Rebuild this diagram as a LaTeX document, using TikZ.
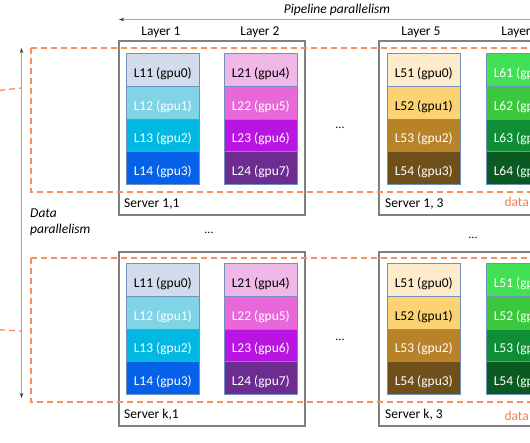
\documentclass[tikz,border=0pt]{standalone}
\usepackage{fontspec}
\setmainfont{Carlito}
\usetikzlibrary{arrows.meta}
\definecolor{c11}{HTML}{D2DCEC}
\definecolor{c12}{HTML}{80D4E6}
\definecolor{c13}{HTML}{00B8E2}
\definecolor{c14}{HTML}{0562E8}
\definecolor{c21}{HTML}{F0B8E6}
\definecolor{c22}{HTML}{E868DA}
\definecolor{c23}{HTML}{B814E2}
\definecolor{c24}{HTML}{6C2C90}
\definecolor{c51}{HTML}{FDEBCB}
\definecolor{c52}{HTML}{FDD272}
\definecolor{c53}{HTML}{B88228}
\definecolor{c54}{HTML}{6F501A}
\definecolor{c61}{HTML}{42E055}
\definecolor{c62}{HTML}{3CC83C}
\definecolor{c63}{HTML}{0F8E36}
\definecolor{c64}{HTML}{0B5A22}
\definecolor{blockedge}{HTML}{7090C0}
\definecolor{servergray}{HTML}{808080}
\definecolor{arrowgray}{HTML}{A6A6A6}
\definecolor{dashorange}{HTML}{F4905E}
\definecolor{dataorange}{HTML}{F07F50}
\definecolor{tipcol}{HTML}{333333}
\newcommand\gpucol[4]{%
  \foreach \r/\lab/\fc/\tc in {#4}{%
    \node[gpu, fill=\fc] (#1\r) at (#2, #3+\r*32.75) {};
    \node[gputxt, text=\tc] (#1t\r) at ([yshift=-4pt]#1\r.center) {\lab};
  }}
\begin{document}
\begin{tikzpicture}[x=1pt,y=-1pt,
  gpu/.style={draw=blockedge, line width=0.6pt, minimum width=73pt, minimum height=32.75pt, anchor=north west, inner sep=0pt},
  gputxt/.style={font=\fontsize{13.5}{15}\selectfont, inner sep=0pt},
  lbl/.style={font=\fontsize{13.5}{15}\selectfont, inner sep=0pt},
  server/.style={draw=servergray, line width=1.2pt},
  dgroup/.style={draw=dashorange, line width=1.3pt, dash pattern=on 6pt off 4pt},
  garrow/.style={draw=arrowgray, line width=1pt},
  dots/.style={font=\fontsize{12}{13}\selectfont, inner sep=0pt}]
\useasboundingbox (0,0) rectangle (530,442);
\clip (0,0) rectangle (530,442);

% server boxes
\draw[server] (119,41) rectangle (305,215);
\draw[server] (379,41) rectangle (620,215);
\draw[server] (119,252) rectangle (305,426);
\draw[server] (379,252) rectangle (620,426);

% gpu columns, top row
\gpucol{a}{126}{53}{0/L11 (gpu0)/c11/black, 1/L12 (gpu1)/c12/white, 2/L13 (gpu2)/c13/white, 3/L14 (gpu3)/c14/white}
\gpucol{b}{224}{53}{0/L21 (gpu4)/c21/black, 1/L22 (gpu5)/c22/white, 2/L23 (gpu6)/c23/white, 3/L24 (gpu7)/c24/white}
\gpucol{c}{387}{53}{0/L51 (gpu0)/c51/black, 1/L52 (gpu1)/c52/black, 2/L53 (gpu2)/c53/white, 3/L54 (gpu3)/c54/white}
\gpucol{d}{486}{53}{0/L61 (gpu4)/c61/white, 1/L62 (gpu5)/c62/white, 2/L63 (gpu6)/c63/white, 3/L64 (gpu7)/c64/white}
% gpu columns, bottom row
\gpucol{e}{126}{263}{0/L11 (gpu0)/c11/black, 1/L12 (gpu1)/c12/white, 2/L13 (gpu2)/c13/white, 3/L14 (gpu3)/c14/white}
\gpucol{f}{224}{263}{0/L21 (gpu4)/c21/black, 1/L22 (gpu5)/c22/white, 2/L23 (gpu6)/c23/white, 3/L24 (gpu7)/c24/white}
\gpucol{g}{387}{263}{0/L51 (gpu0)/c51/black, 1/L52 (gpu1)/c52/black, 2/L53 (gpu2)/c53/white, 3/L54 (gpu3)/c54/white}
\gpucol{h}{486}{263}{0/L51 (gpu4)/c61/white, 1/L52 (gpu5)/c62/white, 2/L53 (gpu6)/c63/white, 3/L54 (gpu7)/c64/white}

% data-parallel groups (dashed)
\draw[dgroup] (31,48) rectangle (640,192);
\draw[dgroup] (31,258) rectangle (640,402);
\coordinate (lt0) at (-40,98);
\coordinate (lt1) at (21,88);
\coordinate (lb0) at (-40,322);
\coordinate (lb1) at (21,331);
\draw[dgroup] (lt0) .. controls (-15,92) .. (lt1);
\draw[dgroup] (lb0) .. controls (-15,329) .. (lb1);

% arrows
\coordinate (pR) at (540,19.5);
\coordinate (pL) at (119,19.5);
\draw[garrow, -{Stealth[length=5pt,width=3.5pt,color=tipcol]}] (pR) -- (pL);
\coordinate (dT) at (21.5,48);
\coordinate (dB) at (21.5,398);
\draw[garrow, {Stealth[length=5pt,width=3.5pt,color=tipcol]}-{Stealth[length=5pt,width=3.5pt,color=tipcol]}] (dB) -- (dT);

% labels
\node[lbl, font=\fontsize{13.5}{15}\selectfont\itshape] (pp) at (337,10) {Pipeline parallelism};
\node[lbl] (ly1) at (161,32) {Layer 1};
\node[lbl] (ly2) at (260,32) {Layer 2};
\node[lbl] (ly5) at (421,32) {Layer 5};
\node[lbl] (ly6) at (521,32) {Layer 6};
\node[lbl, font=\fontsize{13.5}{15}\selectfont\itshape, anchor=west] (dp1) at (30,213) {Data};
\node[lbl, font=\fontsize{13.5}{15}\selectfont\itshape, anchor=west] (dp2) at (30,230) {parallelism};
\node[lbl, anchor=west] (s11) at (124,204) {Server 1,1};
\node[lbl, anchor=west] (s13) at (385,204) {Server 1, 3};
\node[lbl, anchor=west] (sk1) at (124,415) {Server k,1};
\node[lbl, anchor=west] (sk3) at (385,415) {Server k, 3};
\node[lbl, anchor=east, text=dataorange] (dt1) at (529,202) {data};
\node[lbl, anchor=east, text=dataorange] (dt2) at (529,416) {data};
\node[dots] (el1) at (340,128) {...};
\node[dots] (el2) at (340,340) {...};
\node[dots] (el3) at (209,233) {...};
\node[dots] (el4) at (473,238) {...};
\end{tikzpicture}
\end{document}
